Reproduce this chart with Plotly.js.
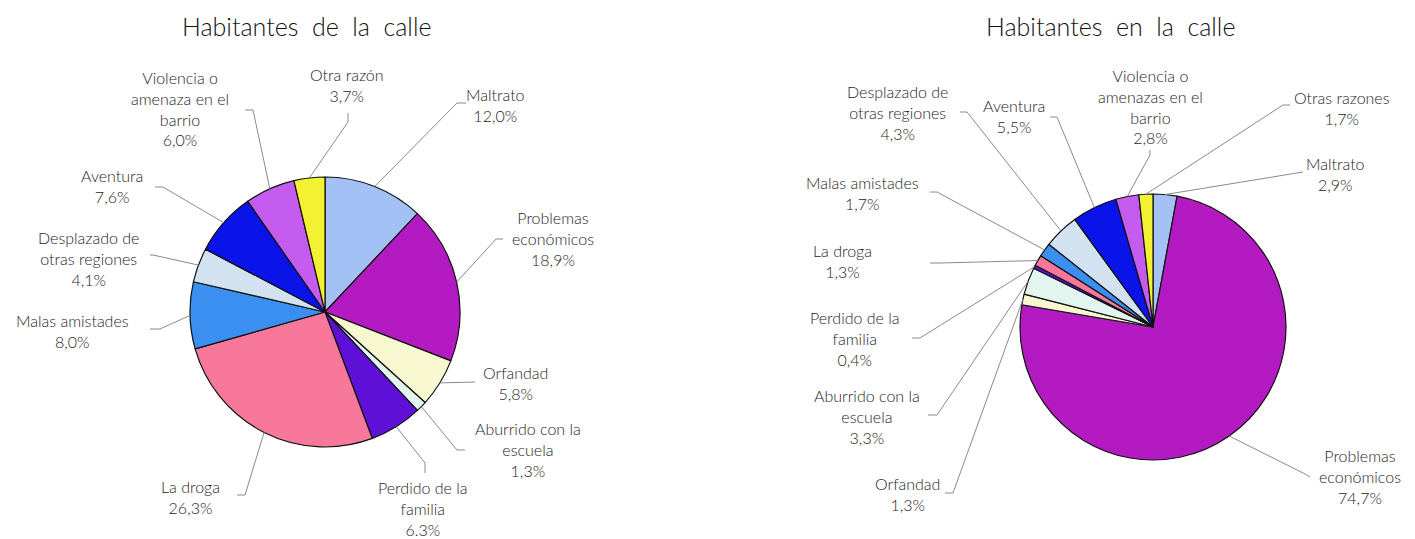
<!DOCTYPE html>
<html>
<head>
<meta charset="utf-8">
<script src="https://cdn.plot.ly/plotly-3.0.1.min.js"></script>
<style>html,body{margin:0;padding:0;background:#fff;}#chart{width:1415px;height:539px;}</style>
</head>
<body>
<div id="chart"></div>
<script>
// ---------- DATA ----------
const leftCategories = ["Maltrato", "Problemas<br>económicos", "Orfandad", "Aburrido con la<br>escuela", "Perdido de la<br>familia", "La droga", "Malas amistades", "Desplazado de<br>otras regiones", "Aventura", "Violencia o<br>amenaza en el<br>barrio", "Otra razón"];
const leftValues = [12.0, 18.9, 5.8, 1.3, 6.3, 26.3, 8.0, 4.1, 7.6, 6.0, 3.7];
const leftPctLabels = ["12,0%", "18,9%", "5,8%", "1,3%", "6.3%", "26,3%", "8,0%", "4,1%", "7,6%", "6,0%", "3,7%"];

const rightCategories = ["Maltrato", "Problemas<br>económicos", "Orfandad", "Aburrido con la<br>escuela", "Perdido de la<br>familia", "La droga", "Malas amistades", "Desplazado de<br>otras regiones", "Aventura", "Violencia o<br>amenazas en el<br>barrio", "Otras razones"];
const rightValues = [2.9, 74.7, 1.3, 3.3, 0.4, 1.3, 1.7, 4.3, 5.5, 2.8, 1.7];
const rightPctLabels = ["2,9%", "74,7%", "1,3%", "3,3%", "0,4%", "1,3%", "1,7%", "4,3%", "5,5%", "2,8%", "1,7%"];

const leftTitle = "Habitantes  de  la  calle";
const rightTitle = "Habitantes  en  la  calle";

// ---------- STYLE / LAYOUT ----------
const W = 1415, H = 539;
const sliceColors = ["#a3c1f5", "#b41ac1", "#f8f8d0", "#e2f5ee", "#5e10d6", "#f7789a", "#3a8ff0", "#d2e2f0", "#0a14e8", "#c45cf0", "#f2f232"];
const FONT = "Lato, 'Open Sans', sans-serif";
const TXT = "#1e1e1e";

const leftPie = {cx: 325, cy: 312, r: 135};
const rightPie = {cx: 1153, cy: 327, r: 133};

// label placement: [textCenterX, firstLineCenterY, elbowX, elbowY, endX, endY]
const leftLabelPos = [
  [495, 94, 457, 103, 466, 103],
  [553, 217, 496, 239, 503, 239],
  [515, 372, 475, 382, 475, 382],
  [528, 428, 457, 450, 465, 450],
  [423, 487, 425, 463, 425, 473],
  [190, 486, 245, 495, 237, 495],
  [72, 320, 160, 329, 150, 329],
  [88, 237, 153, 255, 150, 255],
  [112, 175, 163, 187, 155, 187],
  [180, 77, 253, 110, 245, 110],
  [347, 74, 348, 122, 348, 113]
];
const rightLabelPos = [
  [1335, 163, 1303, 172, 1303, 172],
  [1360, 455, 1305, 474, 1310, 477],
  [907, 483, 953, 493, 945, 493],
  [867, 395, 937, 415, 928, 415],
  [855, 317, 920, 338, 912, 338],
  [842, 250, 940, 263, 930, 263],
  [862, 182, 937, 192, 930, 192],
  [897, 91, 967, 112, 960, 112],
  [1014, 105, 1057, 117, 1050, 117],
  [1150, 75, 1150, 155, 1150, 150],
  [1342, 97, 1283, 105, 1290, 105]
];

const px = x => x / W;
const py = y => 1 - y / H;

function pieTrace(cats, vals, pie) {
  return {
    type: "pie",
    labels: cats,
    values: vals,
    sort: false,
    direction: "clockwise",
    rotation: 0,
    textinfo: "none",
    hoverinfo: "label+value",
    showlegend: false,
    marker: {colors: sliceColors, line: {color: "#111111", width: 1.2}},
    domain: {
      x: [px(pie.cx - pie.r), px(pie.cx + pie.r)],
      y: [py(pie.cy + pie.r), py(pie.cy - pie.r)]
    }
  };
}

const annotations = [];
const shapes = [];

function addLabels(cats, vals, pcts, pie, pos) {
  const total = vals.reduce((a, b) => a + b, 0);
  let cum = 0;
  vals.forEach((v, i) => {
    const mid = (cum + v / 2) / total;
    cum += v;
    const ang = mid * 2 * Math.PI;
    const sx = pie.cx + pie.r * Math.sin(ang);
    const sy = pie.cy - pie.r * Math.cos(ang);
    const p = pos[i];
    annotations.push({
      xref: "paper", yref: "paper",
      x: px(p[0]), y: py(p[1] - 11),
      xanchor: "center", yanchor: "top",
      text: cats[i] + "<br>" + pcts[i],
      showarrow: false,
      align: "center",
      font: {family: FONT, size: 16, color: TXT, weight: 300}
    });
    shapes.push({
      type: "path",
      xref: "paper", yref: "paper",
      path: `M ${px(sx)} ${py(sy)} L ${px(p[2])} ${py(p[3])} L ${px(p[4])} ${py(p[5])}`,
      line: {color: "#8a8a8a", width: 1}
    });
  });
}

addLabels(leftCategories, leftValues, leftPctLabels, leftPie, leftLabelPos);
addLabels(rightCategories, rightValues, rightPctLabels, rightPie, rightLabelPos);

annotations.push({
  xref: "paper", yref: "paper", x: px(306), y: py(26),
  xanchor: "center", yanchor: "middle", showarrow: false,
  text: leftTitle, font: {family: FONT, size: 25, color: "#111111", weight: 300}
});
annotations.push({
  xref: "paper", yref: "paper", x: px(1110), y: py(26),
  xanchor: "center", yanchor: "middle", showarrow: false,
  text: rightTitle, font: {family: FONT, size: 25, color: "#111111", weight: 300}
});

const layout = {
  width: W, height: H,
  margin: {l: 0, r: 0, t: 0, b: 0},
  paper_bgcolor: "#ffffff",
  plot_bgcolor: "#ffffff",
  showlegend: false,
  annotations: annotations,
  shapes: shapes,
  font: {family: FONT}
};

Plotly.newPlot("chart", [pieTrace(leftCategories, leftValues, leftPie), pieTrace(rightCategories, rightValues, rightPie)], layout, {displayModeBar: false, staticPlot: true});
</script>
</body>
</html>
